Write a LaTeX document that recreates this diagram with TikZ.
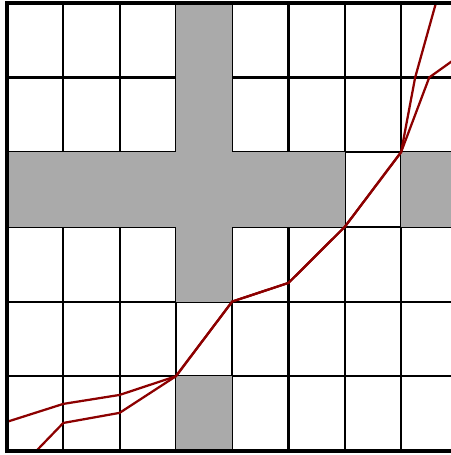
\documentclass[tikz,border=0pt]{standalone}
\definecolor{blockgray}{RGB}{170,170,170}
\definecolor{pathred}{RGB}{140,0,0}
\begin{document}
\begin{tikzpicture}[x=1.4075cm,y=1.8675cm]
\useasboundingbox (-0.124,-0.054) rectangle (7.886,6.037);
\clip (-0.124,-0.054) rectangle (7.886,6.037);
\foreach \i in {1,...,7} \draw[line width=1.5pt] (\i,0) -- (\i,6);
\foreach \j in {1,...,5} \draw[line width=1.5pt] (0,\j) -- (8,\j);

\fill[blockgray] (3,4) rectangle (4,6);
\fill[blockgray] (0,3) rectangle (6,4);
\fill[blockgray] (7,3) rectangle (8,4);
\fill[blockgray] (3,2) rectangle (4,3);
\fill[blockgray] (3,0) rectangle (4,1);

\draw[pathred,line width=1.6pt] (0,0.39) -- (1,0.63) -- (2,0.75) -- (3,1) -- (4,2) -- (5,2.25)
  -- (6,3) -- (7,4) -- (7.5,5) -- (8,5.27);
\draw[pathred,line width=1.6pt] (0.52,0) -- (1,0.375) -- (2,0.51) -- (3,1) -- (4,2) -- (5,2.25)
  -- (6,3) -- (7,4) -- (7.25,5) -- (7.62,6);

\draw[line width=3pt] (0,0) rectangle (8,6);
\end{tikzpicture}
\end{document}
